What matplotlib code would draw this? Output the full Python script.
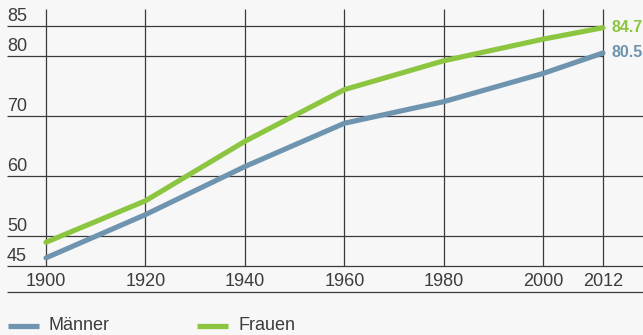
import matplotlib
matplotlib.use("Agg")
import matplotlib.pyplot as plt

# Lebenserwartung bei Geburt
years = [1900, 1920, 1940, 1960, 1980, 2000, 2012]
maenner = [46.4, 53.6, 61.6, 68.8, 72.4, 77.1, 80.5]
frauen = [49.0, 55.9, 65.8, 74.4, 79.2, 82.8, 84.7]
y_ticks = [45, 50, 60, 70, 80, 85]
x_ticks = [1900, 1920, 1940, 1960, 1980, 2000, 2012]
series_names = ["Männer", "Frauen"]

BLUE = "#6f94af"
GREEN = "#8cc640"
GRID = "#3a3a3a"
TEXT = "#3c3c3c"
BG = "#f7f7f7"
FONT = "Liberation Sans"

W, H = 643, 335
fig = plt.figure(figsize=(W / 100, H / 100), dpi=100, facecolor=BG)
ax = fig.add_axes([0, 0, 1, 1], facecolor=BG)

# linear mapping between pixels and data space
X0_PX, X_SCALE = 46.0, 4.973   # px of 1900, px per year
Y0_PX, Y_SCALE = 266.3, 6.01   # px of 45 (from top), px per year of age
ax.set_xlim(1900 - X0_PX / X_SCALE, 1900 + (W - X0_PX) / X_SCALE)
ax.set_ylim(45 - (H - Y0_PX) / Y_SCALE, 45 + Y0_PX / Y_SCALE)
ax.axis("off")


def dx(px):
    return 1900 + (px - X0_PX) / X_SCALE


def dy(px):
    return 45 + (Y0_PX - px) / Y_SCALE


x_left = dx(7)
x_right = ax.get_xlim()[1]
x_end = x_ticks[-1]

# horizontal grid lines with labels above them
for v in y_ticks:
    right = x_end if v >= 80 else x_right
    ax.plot([x_left, right], [v, v], color=GRID, lw=0.9, zorder=1,
            solid_capstyle="butt")
    ax.text(x_left, v + 0.85, str(v), ha="left", va="baseline",
            fontsize=13, color=TEXT, family=FONT)

# vertical grid lines
for yr in x_ticks:
    ax.plot([yr, yr], [45, dy(9)], color=GRID, lw=0.9, zorder=1,
            solid_capstyle="butt")
    ax.text(yr, dy(282), str(yr), ha="center", va="center",
            fontsize=13, color=TEXT, family=FONT)

# rule below the year labels
ax.plot([x_left, x_right], [dy(292.3)] * 2, color=GRID, lw=0.9,
        solid_capstyle="butt")

# data lines
ax.plot(years, maenner, color=BLUE, lw=3.7, solid_capstyle="round",
        solid_joinstyle="round", zorder=3)
ax.plot(years, frauen, color=GREEN, lw=3.7, solid_capstyle="round",
        solid_joinstyle="round", zorder=3)

# end values
ax.text(dx(611.5), frauen[-1], f"{frauen[-1]:.1f}", ha="left", va="center",
        fontsize=11.5, fontweight="bold", color=GREEN, family=FONT)
ax.text(dx(611.5), maenner[-1], f"{maenner[-1]:.1f}", ha="left", va="center",
        fontsize=11.5, fontweight="bold", color=BLUE, family=FONT)

# legend
for (x_sw, x_txt), name, col in zip([(8, 49), (197, 238)], series_names,
                                    [BLUE, GREEN]):
    ax.plot([dx(x_sw), dx(x_sw + 31)], [dy(326)] * 2, color=col, lw=3.8,
            solid_capstyle="butt")
    ax.text(dx(x_txt), dy(326), name, ha="left", va="center",
            fontsize=13, color=TEXT, family=FONT)

fig.savefig("out.png", dpi=100, facecolor=BG)
